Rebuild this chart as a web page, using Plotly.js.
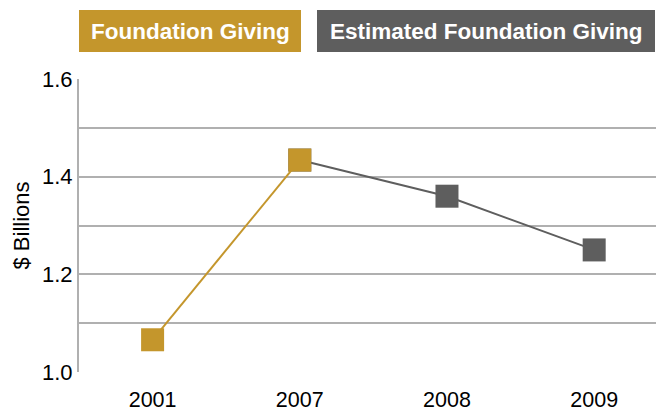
<!DOCTYPE html>
<html><head><meta charset="utf-8">
<script src="https://cdn.plot.ly/plotly-3.0.1.min.js"></script>
<style>html,body{margin:0;padding:0;background:#fff}#c{width:656px;height:413px}</style>
</head><body><div id="c"></div>
<script>
const seriesNames = ["Foundation Giving", "Estimated Foundation Giving"];
const actualYears = ["2001", "2007"];
const actualValues = [1.066, 1.434];
const estYears = ["2007", "2008", "2009"];
const estValues = [1.434, 1.360, 1.250];
const categories = ["2001", "2007", "2008", "2009"];
const gold = "#C4962C", gray = "#5E5E5E";

const traces = [
  {x: estYears, y: estValues, type: "scatter", mode: "lines+markers", name: seriesNames[1],
   line: {color: gray, width: 2}, marker: {symbol: "square", size: 23, color: gray}},
  {x: actualYears, y: actualValues, type: "scatter", mode: "lines+markers", name: seriesNames[0],
   line: {color: gold, width: 2}, marker: {symbol: "square", size: 23, color: gold}}
];
const W = 577, H = 293;
const px = v => (v - 79) / W, py = v => (372 - v) / H;
const layout = {
  width: 656, height: 413, showlegend: false,
  margin: {l: 79, r: 0, t: 79, b: 41},
  paper_bgcolor: "#fff", plot_bgcolor: "#fff",
  font: {family: "Liberation Sans, Arial, sans-serif", size: 22, color: "#000"},
  xaxis: {type: "category", categoryarray: categories, range: [-0.5, 3.42],
    showgrid: false, zeroline: false, showline: false,
    ticks: "outside", ticklen: 8, tickcolor: "rgba(0,0,0,0)",
    tickfont: {size: 21.5}},
  yaxis: {range: [1.0, 1.6], dtick: 0.2, tick0: 1.0, tickformat: ".1f",
    showgrid: true, gridcolor: "#B0B0B0", gridwidth: 2, zeroline: false,
    showline: true, linecolor: "#B0B0B0", linewidth: 2, ticks: "", ticklen: 0,
    minor: {dtick: 0.1, showgrid: true, gridcolor: "#B0B0B0", gridwidth: 2},
    title: {text: "$ Billions", font: {size: 22}, standoff: 6},
    tickfont: {size: 22}},
  shapes: [
    {type: "rect", xref: "paper", yref: "paper", x0: px(79), x1: px(301), y0: py(52), y1: py(10),
     fillcolor: gold, line: {width: 0}},
    {type: "rect", xref: "paper", yref: "paper", x0: px(317), x1: px(655), y0: py(52), y1: py(10),
     fillcolor: gray, line: {width: 0}}
  ],
  annotations: [
    {xref: "paper", yref: "paper", x: px(190), y: py(31), text: "<b>" + seriesNames[0] + "</b>",
     showarrow: false, font: {color: "#fff", size: 22.5}, xanchor: "center", yanchor: "middle"},
    {xref: "paper", yref: "paper", x: px(486), y: py(31), text: "<b>" + seriesNames[1] + "</b>",
     showarrow: false, font: {color: "#fff", size: 22.5}, xanchor: "center", yanchor: "middle"}
  ]
};
Plotly.newPlot("c", traces, layout, {displayModeBar: false, staticPlot: true});
</script></body></html>
